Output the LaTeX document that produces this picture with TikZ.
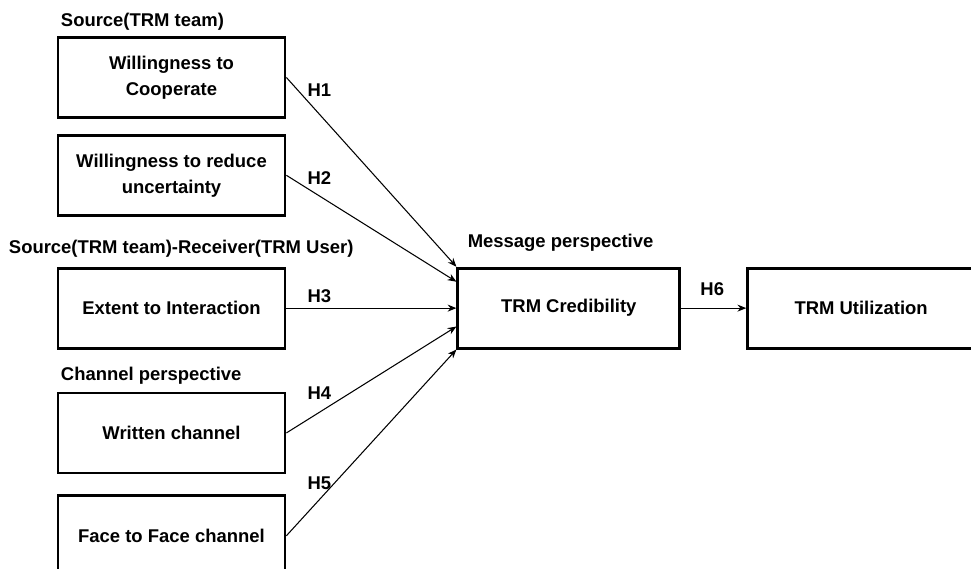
\documentclass[tikz,border=0pt]{standalone}
\usepackage{fontspec}
\setmainfont{Liberation Sans}
\usepackage{tikz}
\usetikzlibrary{positioning}
\usetikzlibrary{arrows.meta}
\tikzset{
  mybox/.style={
    draw=black,
    shape=rectangle,
    line width=1.6pt,
    align=center,
    inner sep=2pt,
    minimum width=4.54cm,
    minimum height=1.6cm,
    font=\bfseries\fontsize{10.5}{14.8}\selectfont
  },
  myarrow/.style={
    draw=black,
    line width=0.6pt,
    -{Stealth[length=5pt,width=4pt]},
  },
  myhead/.style={
    inner sep=0pt,
    anchor=base west,
    font=\bfseries\fontsize{10.5}{12.6}\selectfont
  },
  mylabel/.style={
    inner sep=0pt,
    font=\bfseries\fontsize{10.5}{12.6}\selectfont
  },
}

\begin{document}
\begin{tikzpicture}
    \useasboundingbox (0,0) rectangle (19.42,-11.38);
    \clip (0,0) rectangle (19.42,-11.38);

    % left column
    \node[mybox] (coop) at (3.43,-1.55) {Willingness to\\Cooperate};
    \node[mybox] (reduce)   [below=0.30cm of coop]     {Willingness to reduce\\uncertainty};
    \node[mybox] (interact) [below=1.00cm of reduce]   {Extent to Interaction};
    \node[mybox] (written)  [below=0.84cm of interact] {Written channel};
    \node[mybox] (face)     [below=0.40cm of written]  {Face to Face channel};

    % right side
    \node[mybox, minimum width=4.44cm] (cred) [right=3.40cm of interact] {TRM Credibility};
    \node[mybox] (util) [right=1.30cm of cred] {TRM Utilization};

    % headings
    \node[myhead] (srchead)  at ([xshift=0.08cm,yshift=0.2cm]coop.north west)      {Source(TRM team)};
    \node[myhead] (bothhead) at ([xshift=-0.96cm,yshift=0.26cm]interact.north west) {Source(TRM team)-Receiver(TRM User)};
    \node[myhead] (chanhead) at ([xshift=0.08cm,yshift=0.22cm]written.north west)   {Channel perspective};
    \node[myhead] (msghead)  at ([xshift=0.22cm,yshift=0.38cm]cred.north west)      {Message perspective};

    % hypotheses
    \draw[myarrow] (coop.east)     -- (cred.north west);
    \draw[myarrow] (reduce.east)   -- ([yshift=-0.3cm]cred.north west);
    \draw[myarrow] (interact.east) -- (cred.west);
    \draw[myarrow] (written.east)  -- ([yshift=0.46cm]cred.south west);
    \draw[myarrow] (face.east)     -- (cred.south west);
    \draw[myarrow] (cred.east)     -- (util.west);

    \node[mylabel] (h1) at ([xshift=0.66cm,yshift=-0.25cm]coop.east)    {H1};
    \node[mylabel] (h2) at ([xshift=0.66cm,yshift=-0.05cm]reduce.east)  {H2};
    \node[mylabel] (h3) at ([xshift=0.66cm,yshift=0.23cm]interact.east) {H3};
    \node[mylabel] (h4) at ([xshift=0.66cm,yshift=0.8cm]written.east)   {H4};
    \node[mylabel] (h5) at ([xshift=0.66cm,yshift=1.06cm]face.east)     {H5};
    \node[mylabel] (h6) at ([xshift=0.62cm,yshift=0.38cm]cred.east)     {H6};
  \end{tikzpicture}
\end{document}
